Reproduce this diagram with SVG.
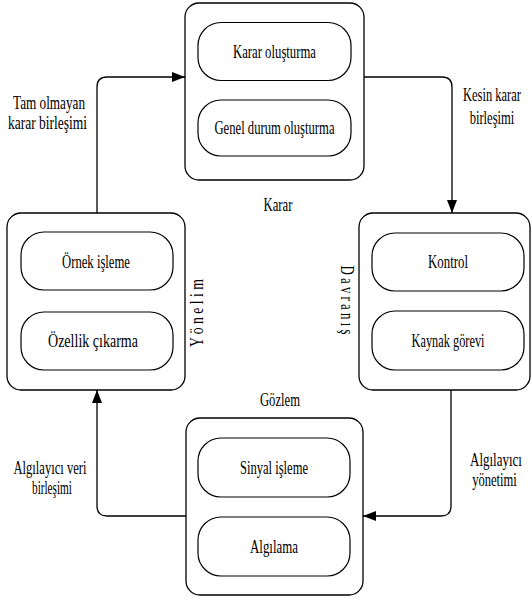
<svg xmlns="http://www.w3.org/2000/svg" width="532" height="601" viewBox="0 0 532 601">
<style>
.box{fill:#fff;stroke:#000;stroke-width:1.3}
.pill{fill:#fff;stroke:#000;stroke-width:1.2}
.t{font-family:"Liberation Serif","Times New Roman",serif;font-size:18px;fill:#000;text-anchor:middle}
.c{fill:none;stroke:#000;stroke-width:1.3}
</style>
<defs>
<marker id="ah" viewBox="0 0 13 10" refX="13" refY="5" markerWidth="13" markerHeight="10" markerUnits="userSpaceOnUse" orient="auto">
<path d="M0,0 L13,5 L0,10 Z" fill="#000"/>
</marker>
</defs>
<g id="connectors">
<path class="c" d="M97,213 V87 Q97,77 107,77 H185" marker-end="url(#ah)"/>
<path class="c" d="M364,77 H442 Q452,77 452,87 V213" marker-end="url(#ah)"/>
<path class="c" d="M451,390 V506 Q451,516 441,516 H363" marker-end="url(#ah)"/>
<path class="c" d="M186,516 H107 Q97,516 97,506 V390" marker-end="url(#ah)"/>
</g>
<g id="karar">
<rect class="box" x="185" y="3" width="179" height="177" rx="14"/>
<g id="karar-olusturma">
<rect class="pill" x="198" y="22.5" width="153" height="58" rx="23"/>
<text class="t" x="274.5" y="57.5" textLength="83" lengthAdjust="spacingAndGlyphs">Karar oluşturma</text>
</g>
<g id="genel-durum">
<rect class="pill" x="198" y="100" width="153" height="56" rx="23"/>
<text class="t" x="274.5" y="134" textLength="120" lengthAdjust="spacingAndGlyphs">Genel durum oluşturma</text>
</g>
<text class="t" x="278" y="211" textLength="29" lengthAdjust="spacingAndGlyphs">Karar</text>
</g>
<g id="yonelim">
<rect class="box" x="7" y="213" width="178" height="177" rx="14"/>
<g id="ornek-isleme">
<rect class="pill" x="21" y="232" width="152" height="58" rx="23"/>
<text class="t" x="96" y="267.5" textLength="68" lengthAdjust="spacingAndGlyphs">Örnek işleme</text>
</g>
<g id="ozellik-cikarma">
<rect class="pill" x="21" y="312" width="152" height="58" rx="23"/>
<text class="t" x="93" y="347" textLength="90" lengthAdjust="spacingAndGlyphs">Özellik çıkarma</text>
</g>
<text class="t" transform="translate(198,313) rotate(-90)" x="0" y="5" textLength="68" lengthAdjust="spacingAndGlyphs">Y ö n e l i m</text>
</g>
<g id="davranis">
<rect class="box" x="359" y="213" width="171" height="177" rx="14"/>
<g id="kontrol">
<rect class="pill" x="372" y="233" width="152" height="58" rx="23"/>
<text class="t" x="448" y="268" textLength="40" lengthAdjust="spacingAndGlyphs">Kontrol</text>
</g>
<g id="kaynak-gorevi">
<rect class="pill" x="372" y="311" width="152" height="59" rx="23"/>
<text class="t" x="448" y="346.5" textLength="73" lengthAdjust="spacingAndGlyphs">Kaynak görevi</text>
</g>
<text class="t" transform="translate(346,300) rotate(90)" x="0" y="5" textLength="69" lengthAdjust="spacingAndGlyphs">D a v r a n ı ş</text>
</g>
<g id="gozlem">
<rect class="box" x="186" y="418" width="177" height="177" rx="14"/>
<g id="sinyal-isleme">
<rect class="pill" x="198" y="438" width="152" height="59" rx="23"/>
<text class="t" x="274" y="473.5" textLength="68" lengthAdjust="spacingAndGlyphs">Sinyal işleme</text>
</g>
<g id="algilama">
<rect class="pill" x="198" y="517" width="152" height="59" rx="23"/>
<text class="t" x="274" y="552.5" textLength="48" lengthAdjust="spacingAndGlyphs">Algılama</text>
</g>
<text class="t" x="280" y="406" textLength="40" lengthAdjust="spacingAndGlyphs">Gözlem</text>
</g>
<g id="labels">
<text class="t" x="49" y="109" textLength="72" lengthAdjust="spacingAndGlyphs">Tam olmayan</text>
<text class="t" x="47.5" y="129" textLength="79" lengthAdjust="spacingAndGlyphs">karar birleşimi</text>
<text class="t" transform="translate(492,101) scale(0.695,1)">Kesin karar</text>
<text class="t" transform="translate(492,124) scale(0.7,1)">birleşimi</text>
<text class="t" x="50" y="474" textLength="73" lengthAdjust="spacingAndGlyphs">Algılayıcı veri</text>
<text class="t" x="52" y="493.5" textLength="40" lengthAdjust="spacingAndGlyphs">birleşimi</text>
<text class="t" transform="translate(496,466) scale(0.72,1)">Algılayıcı</text>
<text class="t" transform="translate(494.5,486) scale(0.7,1)">yönetimi</text>
</g>
</svg>
